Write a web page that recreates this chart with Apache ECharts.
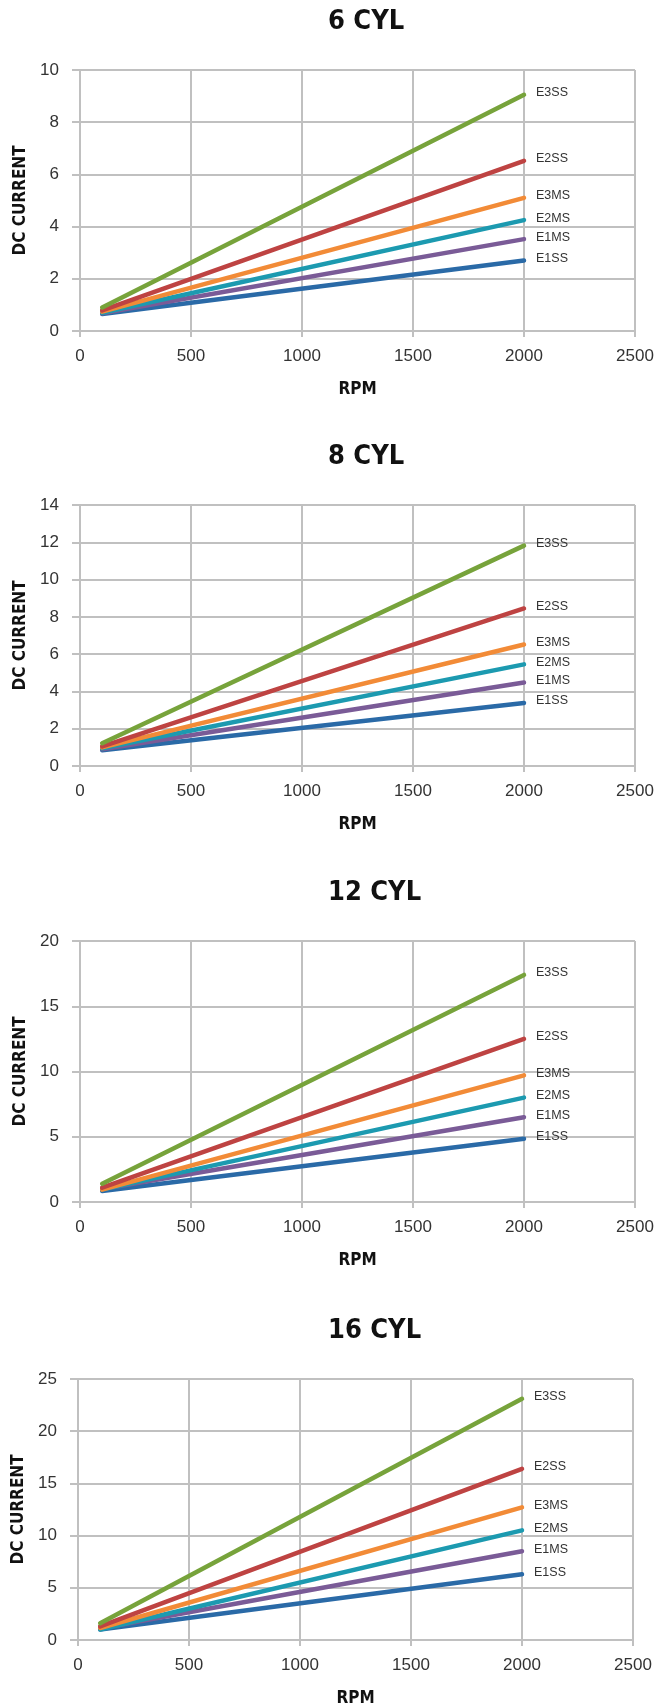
<!DOCTYPE html>
<html>
<head>
<meta charset="utf-8">
<script src="https://cdn.jsdelivr.net/npm/echarts@6/dist/echarts.min.js"></script>
<style>
html,body{margin:0;padding:0;background:#fff;}
#c{width:660px;height:1708px;}
</style>
</head>
<body>
<div id="c"></div>
<script>
// ---- data ----
const chartTitles = ['6 CYL', '8 CYL', '12 CYL', '16 CYL'];
const seriesNames = ['E1SS', 'E1MS', 'E2MS', 'E3MS', 'E2SS', 'E3SS'];
const rpm = [100, 2000];
const xTicks = [0, 500, 1000, 1500, 2000, 2500];
const yMax = [10, 14, 20, 25];
const yStep = [2, 2, 5, 5];
// values at rpm[0], rpm[1] for each series (order of seriesNames)
const cyl6  = [[0.65, 2.70], [0.68, 3.52], [0.70, 4.25], [0.74, 5.10], [0.79, 6.52], [0.90, 9.05]];
const cyl8  = [[0.85, 3.38], [0.90, 4.48], [0.95, 5.45], [1.00, 6.52], [1.05, 8.45], [1.22, 11.82]];
const cyl12 = [[0.85, 4.85], [1.00, 6.50], [0.95, 8.00], [0.95, 9.70], [1.10, 12.50], [1.40, 17.40]];
const cyl16 = [[1.00, 6.30], [1.10, 8.50], [1.00, 10.50], [1.15, 12.70], [1.30, 16.40], [1.60, 23.10]];
const allData = [cyl6, cyl8, cyl12, cyl16];

// ---- styles ----
const colors = ['#2a6aa7', '#7a5b97', '#1c9ab0', '#f28b37', '#be4342', '#77a33b'];
const narrow = "'Liberation Sans Narrow', 'DejaVu Sans Condensed', 'Roboto Condensed', sans-serif";
const regular = "'Liberation Sans', Arial, sans-serif";
const gridColor = '#c0c0c0';
const plotTops = [70, 505, 941, 1379];
const plotH = 261;

const chart = echarts.init(document.getElementById('c'), null, {renderer: 'canvas'});
const grids = [], xAxes = [], yAxes = [], series = [], graphics = [];

plotTops.forEach((top, i) => {
  const left = i === 3 ? 78 : 80;
  const right = i === 3 ? 27 : 25;
  grids.push({left: left, right: right, top: top, height: plotH, containLabel: false});
  xAxes.push({
    type: 'value', gridIndex: i, min: xTicks[0], max: xTicks[xTicks.length - 1], interval: 500,
    name: 'RPM', nameLocation: 'middle', nameGap: 50,
    nameTextStyle: {fontFamily: narrow, fontWeight: 'bold', fontSize: 17, color: '#111'},
    axisLine: {show: true, onZero: false, lineStyle: {color: gridColor, width: 2}},
    axisTick: {show: true, length: 6, lineStyle: {color: gridColor, width: 2}},
    axisLabel: {fontFamily: regular, fontSize: 17, color: '#333', margin: 17,
                formatter: v => String(v)},
    splitLine: {show: true, lineStyle: {color: gridColor, width: 2}}
  });
  yAxes.push({
    type: 'value', gridIndex: i, min: 0, max: yMax[i], interval: yStep[i],
    name: 'DC CURRENT', nameLocation: 'middle', nameGap: 51, nameRotate: 90,
    nameTextStyle: {fontFamily: narrow, fontWeight: 'bold', fontSize: 17, color: '#111'},
    axisLine: {show: true, lineStyle: {color: gridColor, width: 2}},
    axisTick: {show: true, length: 8, lineStyle: {color: gridColor, width: 2}},
    axisLabel: {fontFamily: regular, fontSize: 17, color: '#333', margin: 21,
                formatter: v => String(v)},
    splitLine: {show: true, lineStyle: {color: gridColor, width: 2}}
  });
  allData[i].forEach((vals, s) => {
    series.push({
      type: 'line', name: seriesNames[s], xAxisIndex: i, yAxisIndex: i,
      data: rpm.map((r, k) => [r, vals[k]]),
      showSymbol: false, symbol: 'none', animation: false, silent: true,
      lineStyle: {color: colors[s], width: 4.5, cap: 'round', join: 'round'},
      itemStyle: {color: colors[s]},
      endLabel: {
        show: true, formatter: seriesNames[s], distance: 12, offset: [0, -2],
        fontFamily: regular, fontSize: 12.5, color: '#333'
      }
    });
  });
  graphics.push({
    type: 'text', left: 328, top: top - 48 - 14,
    style: {text: chartTitles[i], font: 'bold 27px ' + narrow, fill: '#111'}
  });
});

chart.setOption({
  animation: false,
  grid: grids, xAxis: xAxes, yAxis: yAxes, series: series, graphic: graphics
});
</script>
</body>
</html>
